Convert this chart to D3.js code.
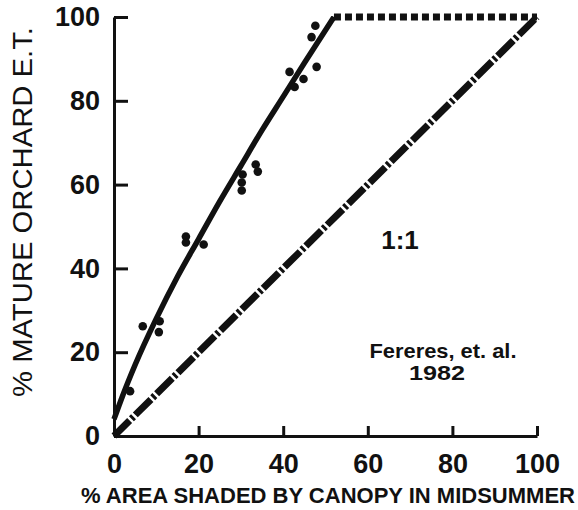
<!DOCTYPE html>
<html>
<head>
<meta charset="utf-8">
<script src="https://cdn.jsdelivr.net/npm/d3@7"></script>
<style>
  body { margin: 0; background: #fff; }
  svg text { font-family: "Liberation Sans", Arial, Helvetica, sans-serif; fill: #111; }
</style>
</head>
<body>
<svg width="578" height="510"></svg>
<script>
// observed points (% area shaded, % mature orchard ET)
const shadeX = [3.8, 6.8, 10.8, 10.6, 17.0, 17.0, 21.2, 30.4, 30.2, 30.2, 33.5, 34.0, 41.5, 42.7, 44.8, 46.7, 47.6, 47.9];
const etY    = [10.7, 26.2, 27.4, 24.8, 47.6, 46.2, 45.7, 62.4, 60.5, 58.6, 64.8, 63.1, 86.9, 83.3, 85.2, 95.2, 97.9, 88.1];

// fitted curve
const fitX = [0, 2, 5, 10, 15, 20, 25, 30, 35, 40, 45, 52];
const fitY = [4, 9.5, 17, 28, 38, 47, 56, 64.5, 73, 81, 89, 100];

// plateau and 1:1 line
const plateauX = [52, 100];
const plateauY = [100, 100];
const oneX = [0, 100];
const oneY = [0, 100];

const xTicks = [0, 20, 40, 60, 80, 100];
const yTicks = [0, 20, 40, 60, 80, 100];

const svg = d3.select("svg");
const x = d3.scaleLinear().domain([0, 100]).range([114, 537]);
const y = d3.scaleLinear().domain([0, 100]).range([436, 17]);

const line = d3.line().x(d => x(d[0])).y(d => y(d[1]));

// 1:1 line
svg.append("path")
    .datum(d3.zip(oneX, oneY))
    .attr("d", line)
    .attr("fill", "none")
    .attr("stroke", "#111")
    .attr("stroke-width", 7)
    .style("stroke-dasharray", "22,2.5,3,2.5");

// plateau
svg.append("path")
    .datum(d3.zip(plateauX, plateauY))
    .attr("d", line)
    .attr("fill", "none")
    .attr("stroke", "#111")
    .attr("stroke-width", 7)
    .style("stroke-dasharray", "7,4");

// fitted curve
svg.append("path")
    .datum(d3.zip(fitX, fitY))
    .attr("d", d3.line().x(d => x(d[0])).y(d => y(d[1])).curve(d3.curveMonotoneX))
    .attr("fill", "none")
    .attr("stroke", "#111")
    .attr("stroke-width", 5.5);

// points
svg.selectAll("circle.pt")
    .data(d3.zip(shadeX, etY))
    .join("circle")
    .attr("class", "pt")
    .attr("cx", d => x(d[0]))
    .attr("cy", d => y(d[1]))
    .attr("r", 4.3)
    .attr("fill", "#111");

// axes
const yAxis = d3.axisLeft(y).tickValues(yTicks).tickSize(-14).tickSizeOuter(0).tickPadding(14);
const xAxis = d3.axisBottom(x).tickValues(xTicks).tickSize(-10).tickSizeOuter(0).tickPadding(18);

const gy = svg.append("g").attr("transform", "translate(114,0)").call(yAxis);
const gx = svg.append("g").attr("transform", "translate(0,436)").call(xAxis);

[gx, gy].forEach(g => {
    g.select(".domain").attr("stroke", "#111").attr("stroke-width", 3);
    g.selectAll(".tick line").attr("stroke", "#111").attr("stroke-width", 3);
    g.selectAll(".tick text")
        .attr("font-size", 27)
        .attr("font-weight", "bold")
        .style("font-family", "'Liberation Sans', Arial, sans-serif")
        .attr("fill", "#111");
});
gx.selectAll(".tick").filter(d => d === 0).select("line").remove();

// axis titles
svg.append("text")
    .attr("x", 328)
    .attr("y", 503)
    .attr("text-anchor", "middle")
    .attr("font-size", 22)
    .attr("font-weight", "bold")
    .attr("textLength", 494)
    .attr("lengthAdjust", "spacingAndGlyphs")
    .text("% AREA SHADED BY CANOPY IN MIDSUMMER");

svg.append("text")
    .attr("transform", "translate(32,212) rotate(-90)")
    .attr("text-anchor", "middle")
    .attr("font-size", 27)
    .attr("textLength", 370)
    .attr("lengthAdjust", "spacingAndGlyphs")
    .text("% MATURE ORCHARD E.T.");

// annotations
svg.append("text")
    .attr("x", 400)
    .attr("y", 249)
    .attr("text-anchor", "middle")
    .attr("font-size", 26)
    .attr("font-weight", "bold")
    .text("1:1");

svg.append("text")
    .attr("x", 443)
    .attr("y", 358)
    .attr("text-anchor", "middle")
    .attr("font-size", 21)
    .attr("font-weight", "bold")
    .attr("textLength", 147)
    .attr("lengthAdjust", "spacingAndGlyphs")
    .text("Fereres, et. al.");

svg.append("text")
    .attr("x", 437)
    .attr("y", 380)
    .attr("text-anchor", "middle")
    .attr("font-size", 21)
    .attr("font-weight", "bold")
    .attr("textLength", 56)
    .attr("lengthAdjust", "spacingAndGlyphs")
    .text("1982");
</script>
</body>
</html>
